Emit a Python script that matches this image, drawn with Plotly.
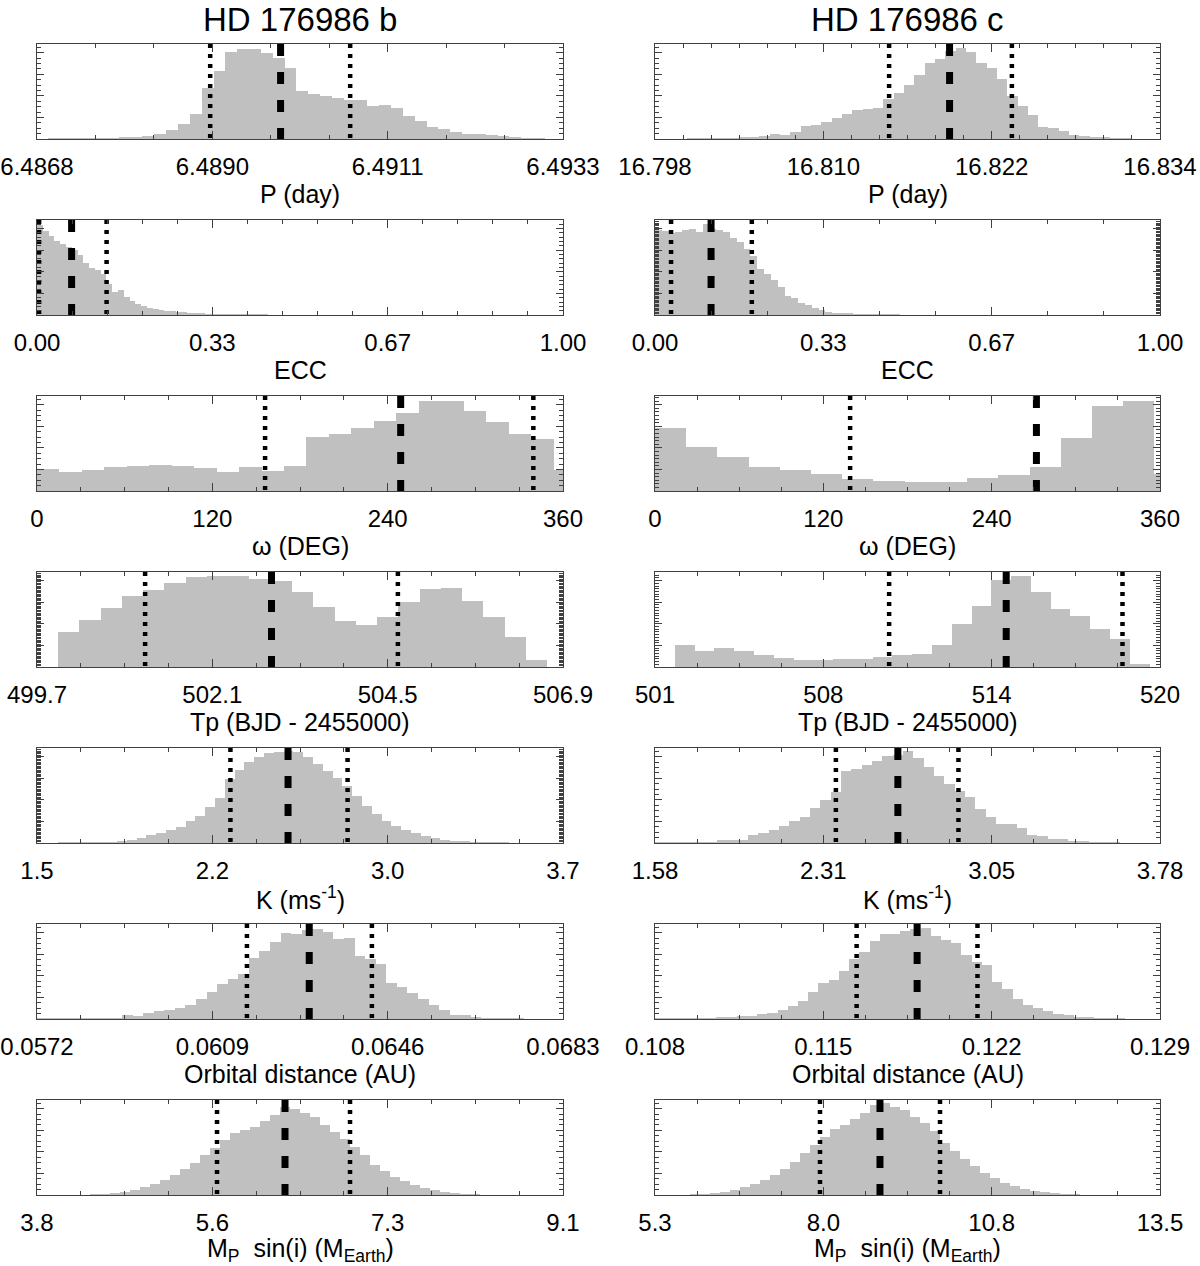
import plotly.graph_objects as go

# ---------------- HD 176986 b ----------------
b_P_range = [6.4868, 6.4933]
b_P_ticks = ["6.4868", "6.4890", "6.4911", "6.4933"]
b_P_start, b_P_width = 6.486933, 0.0001463
b_P_counts = [0.5, 0.7, 1, 1.5, 2, 3, 4, 6, 9, 17, 28, 47, 79, 157, 210, 270, 280, 278, 268, 253,
              220, 150, 140, 132, 128, 120, 120, 102, 106, 95, 70, 55, 38, 32, 22, 17, 16, 11, 8, 5, 3, 2]
b_P_med, b_P_sig = 6.48981, [6.48894, 6.49067]

b_ecc_range = [0, 1]
b_ecc_ticks = ["0.00", "0.33", "0.67", "1.00"]
b_ecc_start, b_ecc_width = 0.0, 0.011
b_ecc_counts = [282, 262, 247, 232, 222, 212, 202, 187, 162, 147, 142, 127, 97, 72, 77, 55, 44, 34, 27, 22,
                19, 17, 12, 14, 10, 8, 6, 5, 4, 3, 2, 2, 1, 1, 1, 0.5, 0.5, 0.3, 0.3, 0.2]
b_ecc_med, b_ecc_sig = 0.0658, [0.004, 0.1323]

b_w_range = [0, 360]
b_w_ticks = ["0", "120", "240", "360"]
b_w_start, b_w_width = 0.0, 15.37
b_w_counts = [70, 60, 65, 75, 80, 82, 80, 73, 60, 77, 62, 80, 172, 180, 200, 220, 245, 283, 283, 253,
              217, 180, 165, 65]
b_w_med, b_w_sig = 248.9, [156.1, 339.7]

b_tp_range = [499.7, 506.9]
b_tp_ticks = ["499.7", "502.1", "504.5", "506.9"]
b_tp_start, b_tp_width = 499.9895, 0.291
b_tp_counts = [108, 145, 182, 218, 237, 258, 277, 280, 280, 270, 263, 232, 185, 142, 130, 155, 200, 240,
               242, 202, 155, 93, 20]
b_tp_med, b_tp_sig = 502.91, [501.18, 504.64]

b_K_range = [1.5, 3.7]
b_K_ticks = ["1.5", "2.2", "3.0", "3.7"]
b_K_start, b_K_width = 1.5885, 0.041
b_K_counts = [0.5, 1, 1, 1.5, 2, 3, 5, 8, 17, 25, 32, 39, 50, 67, 85, 110, 139, 199, 225, 252, 267, 277,
              282, 285, 282, 267, 245, 222, 202, 177, 144, 114, 90, 67, 52, 40, 30, 22, 15, 10, 7, 4, 3, 2, 1, 0.5]
b_K_med, b_K_sig = 2.550, [2.309, 2.799]

b_a_range = [0.0572, 0.0683]
b_a_ticks = ["0.0572", "0.0609", "0.0646", "0.0683"]
b_a_start, b_a_width = 0.057208, 0.0002231
b_a_counts = [0.5, 0.5, 1, 1.5, 2, 2, 3, 3, 13, 10, 20, 25, 27, 35, 45, 63, 83, 110, 125, 140, 190, 210,
              240, 267, 265, 275, 280, 270, 247, 250, 197, 185, 170, 113, 100, 80, 63, 43, 28, 13, 11, 7, 3, 2, 1, 0.5]
b_a_med, b_a_sig = 0.062945, [0.06163, 0.064267]

b_m_range = [3.8, 9.1]
b_m_ticks = ["3.8", "5.6", "7.3", "9.1"]
b_m_start, b_m_width = 4.334, 0.1008
b_m_counts = [0.5, 1, 1.5, 3, 5, 8, 11, 15, 20, 26, 32, 40, 47, 55, 62, 65, 68, 74, 80, 88, 86, 82, 78,
              70, 63, 56, 48, 40, 30, 24, 18, 14, 10, 7, 5, 3, 2, 1, 0.5]
b_m_med, b_m_sig = 6.299, [5.614, 6.954]

# ---------------- HD 176986 c ----------------
c_P_range = [16.798, 16.834]
c_P_ticks = ["16.798", "16.810", "16.822", "16.834"]
c_P_start, c_P_width = 16.80029, 0.000736
c_P_counts = [0.5, 0.5, 1, 1.5, 3, 4, 6, 8, 17, 13, 22, 39, 45, 53, 65, 77, 91, 92, 95, 123, 142, 167,
              198, 235, 249, 272, 283, 269, 235, 220, 187, 135, 103, 75, 38, 35, 25, 12, 9, 6, 4, 3, 2]
c_P_med, c_P_sig = 16.8190, [16.81469, 16.82344]

c_ecc_range = [0, 1]
c_ecc_ticks = ["0.00", "0.33", "0.67", "1.00"]
c_ecc_start, c_ecc_width = 0.0, 0.0135
c_ecc_counts = [262, 257, 252, 255, 260, 264, 254, 280, 265, 260, 255, 237, 224, 202, 182, 142, 127, 107,
                87, 57, 52, 37, 32, 20, 14, 10, 7, 5, 5, 3, 2, 1, 1, 0.5, 0.5, 0.3]
c_ecc_med, c_ecc_sig = 0.111, [0.0318, 0.1917]

c_w_range = [0, 360]
c_w_ticks = ["0", "120", "240", "360"]
c_w_start, c_w_width = 0.0, 22.25
c_w_counts = [200, 140, 107, 75, 65, 55, 37, 31, 30, 30, 42, 50, 75, 167, 270, 285, 55]
c_w_med, c_w_sig = 271.9, [139.1]

c_tp_range = [501.4, 519.9]
c_tp_ticks = ["501", "508", "514", "520"]
c_tp_start, c_tp_width = 502.129, 0.7246
c_tp_counts = [68, 50, 58, 50, 38, 28, 21, 22, 23, 23, 30, 38, 41, 68, 130, 186, 265, 278, 228, 178, 156,
               116, 86, 10]
c_tp_med, c_tp_sig = 514.266, [509.977, 518.526]

c_K_range = [1.58, 3.78]
c_K_ticks = ["1.58", "2.31", "3.05", "3.78"]
c_K_start, c_K_width = 1.58, 0.045
c_K_counts = [0.5, 0.5, 0.5, 0.5, 1, 2, 9, 10, 10, 24, 30, 39, 52, 67, 80, 107, 132, 157, 220, 229, 239,
              252, 266, 272, 282, 260, 234, 205, 182, 160, 142, 105, 80, 59, 57, 47, 25, 20, 12, 12, 7, 5, 3, 1, 0.5]
c_K_med, c_K_sig = 2.638, [2.368, 2.902]

c_a_range = [0.108, 0.129]
c_a_ticks = ["0.108", "0.115", "0.122", "0.129"]
c_a_start, c_a_width = 0.108, 0.0004248
c_a_counts = [0.5, 0.5, 1, 1, 1.5, 2, 4, 5, 9, 10, 15, 20, 27, 40, 57, 83, 110, 120, 147, 185, 207, 240,
              263, 263, 270, 277, 280, 257, 245, 235, 197, 175, 167, 115, 93, 63, 43, 35, 25, 15, 11, 7, 4, 2, 1, 0.5]
c_a_med, c_a_sig = 0.1189, [0.116384, 0.12141]

c_m_range = [5.3, 13.5]
c_m_ticks = ["5.3", "8.0", "10.8", "13.5"]
c_m_start, c_m_width = 5.868, 0.1624
c_m_counts = [0.5, 1, 2, 3, 5, 8, 11, 15, 20, 26, 33, 42, 50, 58, 66, 70, 76, 82, 90, 92, 88, 85, 78, 72,
              64, 52, 44, 36, 29, 22, 17, 12, 9, 6, 4, 3, 2, 1, 0.5]
c_m_med, c_m_sig = 8.953, [7.979, 9.928]

row_titles = ["P (day)", "ECC", "\u03c9 (DEG)", "Tp (BJD - 2455000)", "K (ms<sup>-1</sup>)",
              "Orbital distance (AU)", "M<sub>P</sub>  sin(i) (M<sub>Earth</sub>)"]
col_titles = ["HD 176986 b", "HD 176986 c"]

# (range, ticktext, start, width, counts, median, sigma, ymax, y-minor density, x-minor per major)
panels = [
    (b_P_range, b_P_ticks, b_P_start, b_P_width, b_P_counts, b_P_med, b_P_sig, 295, 4, 3),
    (c_P_range, c_P_ticks, c_P_start, c_P_width, c_P_counts, c_P_med, c_P_sig, 295, 4, 6),
    (b_ecc_range, b_ecc_ticks, b_ecc_start, b_ecc_width, b_ecc_counts, b_ecc_med, b_ecc_sig, 297, 5, 5),
    (c_ecc_range, c_ecc_ticks, c_ecc_start, c_ecc_width, c_ecc_counts, c_ecc_med, c_ecc_sig, 292, 16, 3),
    (b_w_range, b_w_ticks, b_w_start, b_w_width, b_w_counts, b_w_med, b_w_sig, 300, 4, 4),
    (c_w_range, c_w_ticks, c_w_start, c_w_width, c_w_counts, c_w_med, c_w_sig, 300, 6, 4),
    (b_tp_range, b_tp_ticks, b_tp_start, b_tp_width, b_tp_counts, b_tp_med, b_tp_sig, 292, 16, 4),
    (c_tp_range, c_tp_ticks, c_tp_start, c_tp_width, c_tp_counts, c_tp_med, c_tp_sig, 290, 8, 4),
    (b_K_range, b_K_ticks, b_K_start, b_K_width, b_K_counts, b_K_med, b_K_sig, 294, 16, 4),
    (c_K_range, c_K_ticks, c_K_start, c_K_width, c_K_counts, c_K_med, c_K_sig, 292, 4, 4),
    (b_a_range, b_a_ticks, b_a_start, b_a_width, b_a_counts, b_a_med, b_a_sig, 295, 4, 4),
    (c_a_range, c_a_ticks, c_a_start, c_a_width, c_a_counts, c_a_med, c_a_sig, 293, 4, 4),
    (b_m_range, b_m_ticks, b_m_start, b_m_width, b_m_counts, b_m_med, b_m_sig, 95, 4, 4),
    (c_m_range, c_m_ticks, c_m_start, c_m_width, c_m_counts, c_m_med, c_m_sig, 95, 4, 4),
]

W, H = 1200, 1266
col_px = [(37, 563), (655, 1160)]
FONT = "Arial, Liberation Sans, sans-serif"
AX = "#404040"

fig = go.Figure()
layout = dict(width=W, height=H, margin=dict(l=0, r=0, t=0, b=0, autoexpand=False), autosize=False,
              paper_bgcolor="white", plot_bgcolor="white", showlegend=False,
              bargap=0, font=dict(family=FONT, size=24, color="black"))
annotations = []

for i, (rng, ttext, start, width, counts, med, sig, ymax, ydens, xmin) in enumerate(panels):
    n = i + 1
    row, col = divmod(i, 2)
    xa, ya = f"x{n}", f"y{n}"
    top = 44 + 176 * row
    bot = top + 95
    x0, x1 = col_px[col]

    centers = [start + width * (k + 0.5) for k in range(len(counts))]
    fig.add_trace(go.Bar(x=centers, y=counts, width=width, xaxis=xa, yaxis=ya,
                         marker=dict(color="#c0c0c0", line=dict(width=0)), hoverinfo="skip"))
    for s in sig:
        fig.add_trace(go.Scatter(x=[s, s], y=[ymax, 0], mode="lines", xaxis=xa, yaxis=ya,
                                 line=dict(color="black", width=4.5, dash="4px,6px"), hoverinfo="skip"))
    fig.add_trace(go.Scatter(x=[med, med], y=[ymax, 0], mode="lines", xaxis=xa, yaxis=ya,
                             line=dict(color="black", width=7, dash="12px,16px"), hoverinfo="skip"))

    span = rng[1] - rng[0]
    tickvals = [rng[0] + span * k / 3 for k in range(4)]
    layout[f"xaxis{n}"] = dict(
        domain=[x0 / W, x1 / W], anchor=ya, range=rng, showgrid=False, zeroline=False,
        automargin=False, fixedrange=True,
        showline=True, linecolor=AX, linewidth=1, mirror="ticks",
        ticks="inside", ticklen=8, tickcolor=AX, tickwidth=1,
        tickmode="array", tickvals=tickvals, ticktext=ttext, ticklabelstandoff=6,
        tickfont=dict(size=24, family=FONT, color="black"),
        minor=dict(ticks="inside", ticklen=4, tickcolor=AX, dtick=span / 3 / xmin, tick0=rng[0]),
    )
    ymajor = ymax / 4.4
    layout[f"yaxis{n}"] = dict(
        domain=[1 - bot / H, 1 - top / H], anchor=xa, range=[0, ymax], showgrid=False, zeroline=False,
        automargin=False, fixedrange=True,
        showline=True, linecolor=AX, linewidth=1, mirror="ticks",
        ticks="inside", ticklen=7, tickcolor=AX, tickwidth=1, showticklabels=False,
        dtick=ymajor, tick0=0,
        minor=dict(ticks="inside", ticklen=4, tickcolor=AX, dtick=ymajor / ydens, tick0=0),
    )
    annotations.append(dict(text=row_titles[row], x=(x0 + x1) / 2 / W, y=1 - (bot + 55) / H,
                            xref="paper", yref="paper", xanchor="center", yanchor="middle",
                            showarrow=False, font=dict(size=25, family=FONT, color="black")))

for col, t in enumerate(col_titles):
    x0, x1 = col_px[col]
    annotations.append(dict(text=t, x=(x0 + x1) / 2 / W, y=1 - 20 / H, xref="paper", yref="paper",
                            xanchor="center", yanchor="middle", showarrow=False,
                            font=dict(size=33, family=FONT, color="black")))

layout["annotations"] = annotations
fig.update_layout(**layout)
fig.write_html("out.html", config={"displayModeBar": False},
               post_script="document.body.style.margin='0';")
